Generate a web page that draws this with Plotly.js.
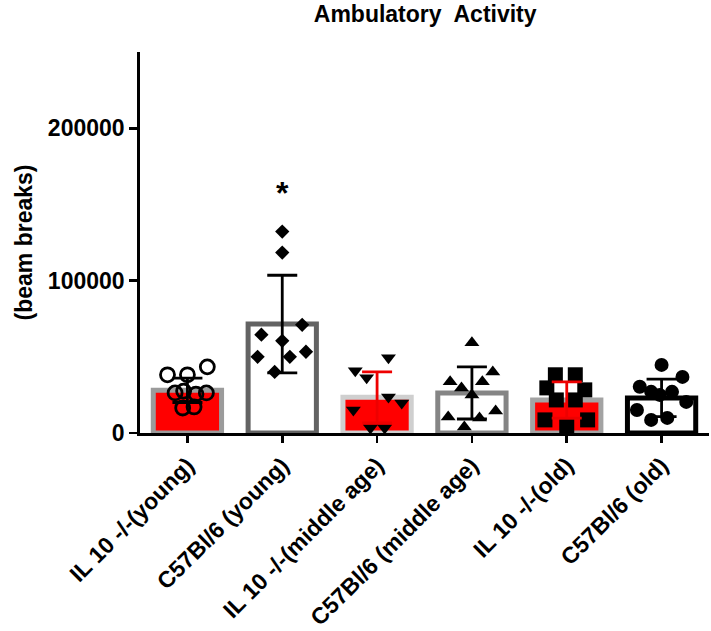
<!DOCTYPE html>
<html>
<head>
<meta charset="utf-8">
<script src="https://cdn.plot.ly/plotly-3.0.1.min.js"></script>
<style>html,body{margin:0;padding:0;background:#fff;}#chart{width:711px;height:631px;}</style>
</head>
<body>
<div id="chart"></div>
<script>
// ---- data ----
const categories = ["IL 10 -/-(young)", "C57Bl/6 (young)", "IL 10 -/-(middle age)", "C57Bl/6 (middle age)", "IL 10 -/-(old)", "C57Bl/6 (old)"];
const means = [28000, 71500, 23400, 26300, 21700, 23000];
const sds = [8000, 32000, 16700, 17100, 11900, 12300];

const ptsIL10Young = [38200, 38200, 43400, 26300, 27500, 25500, 26300, 16400, 17100];
const jitIL10Young = [-0.21, 0.0, 0.21, -0.13, -0.04, 0.09, 0.20, -0.05, 0.07];

const ptsC57Young = [132200, 118400, 71000, 64500, 60500, 50000, 50000, 53300, 40100];
const jitC57Young = [0.0, 0.0, 0.21, -0.22, 0.0, -0.26, 0.08, 0.25, -0.08];

const ptsIL10Mid = [49300, 40800, 36200, 23700, 19700, 15100, 3300, 3300];
const jitIL10Mid = [0.12, -0.23, -0.11, 0.12, 0.26, -0.25, -0.07, 0.08];

const ptsC57Mid = [59200, 40100, 33600, 33600, 29600, 25000, 10500, 9900, 14500, 3900];
const jitC57Mid = [0.0, 0.22, -0.23, 0.11, -0.11, 0.0, -0.25, 0.08, 0.25, -0.08];

const ptsIL10Old = [38200, 38200, 29600, 28300, 21700, 21700, 8600, 8600, 4000];
const jitIL10Old = [-0.12, 0.09, -0.21, 0.19, -0.11, 0.09, -0.23, 0.22, 0.0];

const ptsC57Old = [44700, 36800, 30300, 27000, 27000, 20400, 15100, 8600, 9900, 25000];
const jitC57Old = [0.0, 0.22, -0.23, -0.11, 0.11, 0.26, -0.26, -0.11, 0.06, -0.02];

const significance = ["", "*", "", "", "", ""];
const yTicks = [0, 100000, 200000];
const chartTitle = "Ambulatory  Activity";
const yTitle = "(beam breaks)";

// ---- styles ----
const barFill = ["#ff0000", "#ffffff", "#ff0000", "#ffffff", "#ff0000", "#ffffff"];
const barEdge = ["#9b9b9b", "#636363", "#cfcfcf", "#858585", "#a3a3a3", "#000000"];
const errColor = ["#000000", "#000000", "#ee0000", "#000000", "#ee0000", "#000000"];

const FONT = "Liberation Sans, Arial, sans-serif";
const idx = categories.map((c, i) => i);

const traces = [];
traces.push({
  type: "bar", x: idx, y: means, width: 0.72,
  marker: {color: barFill, line: {color: barEdge, width: 5}},
  hoverinfo: "skip", showlegend: false
});

const groups = [
  {pts: ptsIL10Young, jit: jitIL10Young, sym: "circle-open", size: 14, lw: 2.8},
  {pts: ptsC57Young, jit: jitC57Young, sym: "diamond", size: 11, lw: 0},
  {pts: ptsIL10Mid, jit: jitIL10Mid, sym: "triangle-down", size: 13, lw: 0},
  {pts: ptsC57Mid, jit: jitC57Mid, sym: "triangle-up", size: 13, lw: 0},
  {pts: ptsIL10Old, jit: jitIL10Old, sym: "square", size: 15, lw: 0},
  {pts: ptsC57Old, jit: jitC57Old, sym: "circle", size: 14, lw: 0}
];
groups.forEach((g, i) => {
  traces.push({
    type: "scatter", mode: "markers",
    x: g.pts.map((v, k) => i + g.jit[k]), y: g.pts,
    marker: {symbol: g.sym, size: g.size, color: "#000", line: {color: "#000", width: g.lw}},
    hoverinfo: "skip", showlegend: false, cliponaxis: false
  });
});
idx.forEach(i => {
  traces.push({
    type: "scatter", mode: "markers", x: [i], y: [means[i]],
    marker: {size: 1, color: "rgba(0,0,0,0)"},
    error_y: {type: "data", array: [sds[i]], visible: true, color: errColor[i], thickness: 2.8, width: 15},
    hoverinfo: "skip", showlegend: false
  });
});

const annotations = [];
idx.forEach(i => {
  if (significance[i]) {
    annotations.push({
      x: i, y: means[i] + sds[i], xref: "x", yref: "y",
      text: significance[i], showarrow: false, yanchor: "bottom", yshift: 62,
      font: {family: FONT, size: 32, color: "#000", weight: "bold"}
    });
  }
});
annotations.push({
  text: yTitle, xref: "paper", yref: "paper", x: 0, y: 0.5,
  xanchor: "center", yanchor: "middle", xshift: -117, textangle: -90, showarrow: false,
  font: {family: FONT, size: 23, color: "#000", weight: "bold"}
});

const layout = {
  width: 711, height: 631,
  margin: {l: 140, r: 2, t: 52, b: 198},
  paper_bgcolor: "#fff", plot_bgcolor: "#fff",
  barmode: "overlay",
  title: {text: chartTitle, x: 0.598, xanchor: "center", y: 0.978, yanchor: "middle",
          font: {family: FONT, size: 23, color: "#000", weight: "bold"}},
  xaxis: {
    range: [-0.5, 5.5], tickmode: "array", tickvals: idx, ticktext: categories,
    tickangle: -45, showline: true, linecolor: "#000", linewidth: 2.8,
    ticks: "outside", ticklen: 7, tickwidth: 2.6, tickcolor: "#000",
    showgrid: false, zeroline: false,
    tickfont: {family: FONT, size: 23, color: "#000", weight: "bold"}
  },
  yaxis: {
    range: [0, 250000], tickmode: "array", tickvals: yTicks, ticktext: yTicks.map(String),
    showline: true, linecolor: "#000", linewidth: 2.8,
    ticks: "outside", ticklen: 8, tickwidth: 2.6, tickcolor: "#000",
    showgrid: false, zeroline: false,
    tickfont: {family: FONT, size: 23, color: "#000", weight: "bold"}
  },
  annotations: annotations,
  showlegend: false
};

Plotly.newPlot("chart", traces, layout, {displayModeBar: false, staticPlot: true});
</script>
</body>
</html>
